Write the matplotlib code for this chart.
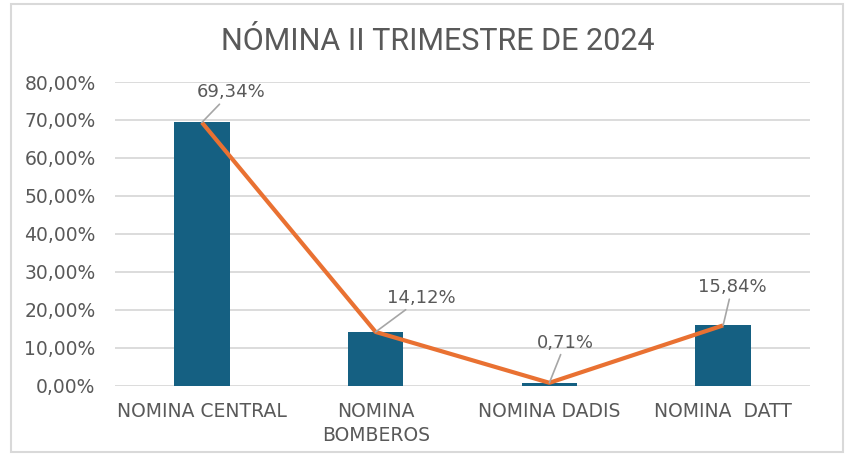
import matplotlib.pyplot as plt
from matplotlib.patches import Rectangle
from matplotlib.ticker import FuncFormatter

# Datos
categorias = ['NOMINA CENTRAL', 'NOMINA\nBOMBEROS', 'NOMINA DADIS', 'NOMINA  DATT']
porcentajes = [69.34, 14.12, 0.71, 15.84]
etiquetas = ['69,34%', '14,12%', '0,71%', '15,84%']
# desplazamiento de las etiquetas (pixeles)
offsets = [(29, 30), (46, 34), (16, 40), (9, 38)]

azul = '#156082'
naranja = '#E97132'
gris_texto = '#595959'

fig = plt.figure(figsize=(8.49, 4.55), dpi=100)
ax = fig.add_axes([115 / 849, 1 - 385.5 / 455, 695 / 849, (385.5 - 82) / 455])

x = list(range(len(categorias)))
ax.bar(x, porcentajes, width=0.32, color=azul, zorder=2)
ax.plot(x, porcentajes, color=naranja, linewidth=3.0, zorder=3, solid_capstyle='butt')

for xi, v, lab, off in zip(x, porcentajes, etiquetas, offsets):
    ax.annotate(lab, xy=(xi, v), xytext=off, textcoords='offset pixels',
                ha='center', va='center', fontsize=13, color=gris_texto,
                arrowprops=dict(arrowstyle='-', color='#A6A6A6', lw=1.2,
                                shrinkA=0, shrinkB=0), zorder=4)

ax.set_xlim(-0.5, 3.5)
ax.set_ylim(0, 80)
ax.set_yticks(range(0, 81, 10))
ax.yaxis.set_major_formatter(FuncFormatter(lambda v, p: f'{v:.2f}%'.replace('.', ',')))
ax.set_xticks(x)
ax.set_xticklabels(categorias, fontsize=13.5, color=gris_texto, linespacing=1.35)
ax.tick_params(axis='y', labelsize=13.5, labelcolor=gris_texto, length=0, pad=14)
ax.tick_params(axis='x', length=0, pad=12)
ax.grid(axis='y', color='#D9D9D9', linewidth=1.3, zorder=0)
ax.set_axisbelow(True)
for s in ax.spines.values():
    s.set_visible(False)

fig.text(438 / 849, 1 - 42 / 455, 'NÓMINA II TRIMESTRE DE 2024', ha='center', va='center',
         fontsize=22, color=gris_texto,
         family=['Liberation Sans Narrow', 'DejaVu Sans Condensed', 'Roboto'])

# borde del grafico
fig.patches.append(Rectangle((11 / 849, 3 / 455), 832 / 849, 448 / 455,
                             transform=fig.transFigure, fill=False,
                             edgecolor='#D9D9D9', linewidth=1.5))

fig.savefig('out.png', dpi=100)
